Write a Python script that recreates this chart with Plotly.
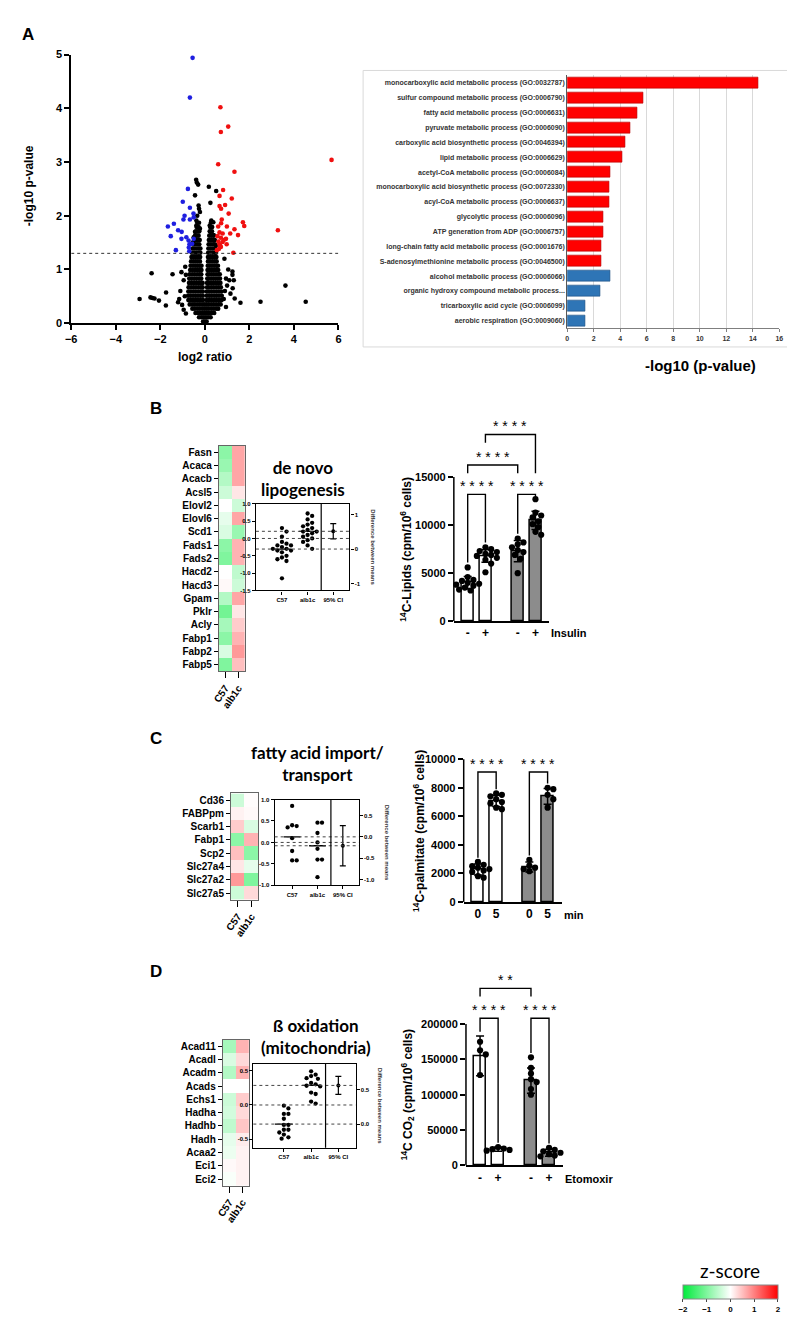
import plotly.graph_objects as go

W, H = 795, 1325
FONT = "Arial, Liberation Sans, sans-serif"
TFONT = "Lato, Open Sans, sans-serif"

# ---------------- DATA ----------------
# Panel A - volcano plot
vol_up_x = [0.70, 1.05, 0.72, 5.69, 0.60, 1.33, 0.82, 0.66, 1.21, 0.91, 0.66, 0.73, 1.07, 0.76, 0.73, 1.71, 1.77,
            0.60, 0.99, 3.28, 1.33, 0.66, 0.80, 1.14, 1.49, 0.57, 0.72, 0.95, 0.61, 0.80, 0.66, 0.98, 0.72, 0.63,
            1.28, 0.54, 0.85, 0.68]
vol_up_y = [4.02, 3.66, 3.56, 3.04, 2.96, 2.82, 2.48, 2.37, 2.32, 2.20, 2.18, 2.13, 2.04, 1.93, 1.86, 1.88, 1.81,
            1.80, 1.80, 1.73, 1.75, 1.69, 1.67, 1.67, 1.64, 1.62, 1.59, 1.57, 1.52, 1.51, 1.47, 1.47, 1.42, 1.38,
            1.31, 1.36, 1.55, 1.44]
vol_down_x = [-0.55, -0.67, -0.76, -0.99, -0.67, -0.91, -0.96, -0.67, -0.51, -1.39, -1.66, -1.20, -1.04, -1.53,
              -0.83, -1.05, -0.73, -0.57, -0.69, -1.30, -0.72, -0.70, -0.50, -0.50]
vol_down_y = [4.94, 4.20, 2.50, 2.26, 2.15, 2.00, 1.93, 1.93, 2.04, 1.85, 1.80, 1.73, 1.70, 1.62,
              1.60, 1.57, 1.54, 1.48, 1.47, 1.36, 1.41, 1.34, 1.57, 1.97]
vol_ns_x = [-2.93, -2.39, -2.44, -2.35, -2.26, -2.06, -1.74, -1.75, -1.45, -1.20, -1.02, -0.85, -1.10, -0.95,
            -1.05, -0.90, -0.95, -0.85, -1.15, -0.88, 2.50, 3.62, 4.53, 1.60, 1.24, 1.24, 1.34, 0.95, 1.10, 1.30,
            1.15, 0.90, 0.95, 1.05, 0.88, 1.00, 0.85, 1.25, -0.39, -0.36, -0.30, 0.18, 0.51, -0.44, 0.25, -0.28,
            -0.26, -0.22, -0.34, -0.38, 0.29, 0.38, -0.38, 0.22, -0.22, -0.44, 0.26, 0.39, -0.50, 0.45, -0.55, 0.50]
vol_ns_y = [0.45, 0.93, 0.48, 0.47, 0.46, 0.42, 0.57, 0.33, 0.91, 0.39, 0.34, 0.18, 0.60, 0.80,
            0.95, 0.50, 0.25, 0.90, 0.45, 1.05, 0.40, 0.70, 0.40, 0.38, 0.96, 0.90, 0.46, 0.83, 0.80, 0.80,
            0.55, 0.60, 0.30, 1.00, 1.20, 0.70, 0.45, 0.65, 2.67, 2.62, 2.58, 2.54, 2.46, 2.38, 2.24, 2.19,
            2.13, 2.07, 2.00, 1.91, 1.91, 1.88, 1.82, 1.82, 1.76, 1.70, 1.70, 1.64, 1.60, 1.55, 1.50, 1.45]
vol_core_y = [0.03, 0.11, 0.19, 0.27, 0.35, 0.43, 0.51, 0.59, 0.67, 0.75, 0.83, 0.91, 0.99, 1.07, 1.15, 1.23,
              1.31, 1.39, 1.47, 1.55, 1.63, 1.71, 1.79, 1.87]
vol_core_x = [
    [-0.08, 0.0, 0.08],
    [-0.26, -0.15, -0.05, 0.05, 0.15, 0.26],
    [-0.42, -0.31, -0.2, -0.1, 0.0, 0.1, 0.2, 0.31, 0.42],
    [-0.56, -0.45, -0.34, -0.23, -0.12, -0.02, 0.08, 0.18, 0.29, 0.4, 0.51, 0.6],
    [-0.68, -0.57, -0.46, -0.35, -0.24, -0.13, -0.03, 0.07, 0.17, 0.28, 0.39, 0.5, 0.61, 0.71],
    [-0.74, -0.63, -0.52, -0.41, -0.3, -0.19, -0.08, 0.08, 0.19, 0.3, 0.41, 0.52, 0.63, 0.75],
    [-0.75, -0.64, -0.53, -0.42, -0.31, -0.2, -0.09, 0.09, 0.2, 0.31, 0.42, 0.53, 0.64, 0.76],
    [-0.74, -0.63, -0.52, -0.41, -0.3, -0.19, -0.09, 0.09, 0.19, 0.3, 0.41, 0.52, 0.63, 0.74],
    [-0.73, -0.62, -0.51, -0.4, -0.29, -0.18, -0.1, 0.1, 0.18, 0.29, 0.4, 0.51, 0.62, 0.72],
    [-0.71, -0.6, -0.49, -0.38, -0.27, -0.17, -0.1, 0.1, 0.17, 0.27, 0.38, 0.49, 0.6, 0.7],
    [-0.7, -0.59, -0.48, -0.37, -0.26, -0.16, 0.11, 0.18, 0.28, 0.38, 0.48, 0.58, 0.68],
    [-0.68, -0.57, -0.46, -0.35, -0.25, -0.16, 0.12, 0.2, 0.3, 0.4, 0.5, 0.6, 0.67],
    [-0.66, -0.55, -0.44, -0.34, -0.24, -0.15, 0.12, 0.21, 0.31, 0.41, 0.51, 0.6],
    [-0.64, -0.53, -0.43, -0.33, -0.23, -0.15, 0.13, 0.22, 0.32, 0.42, 0.52, 0.59],
    [-0.62, -0.52, -0.42, -0.32, -0.22, 0.14, 0.23, 0.33, 0.43, 0.53],
    [-0.6, -0.5, -0.4, -0.3, -0.21, 0.14, 0.24, 0.34, 0.44, 0.52],
    [-0.58, -0.48, -0.38, -0.28, -0.2, 0.15, 0.25, 0.35, 0.45, 0.5],
    [-0.55, -0.46, -0.36, -0.27, -0.2, 0.16, 0.26, 0.36, 0.46],
    [-0.52, -0.43, -0.34, -0.25, 0.17, 0.27, 0.37, 0.45],
    [-0.48, -0.4, -0.31, -0.23, 0.18, 0.28, 0.38],
    [-0.44, -0.36, -0.28, 0.2, 0.3, 0.4],
    [-0.4, -0.32, -0.25, 0.22, 0.32],
    [-0.37, -0.28, 0.24, 0.33],
    [-0.34, -0.26, 0.27],
]
sig_threshold = 1.3

# Panel A - GO enrichment
go_terms = [
    "monocarboxylic acid metabolic process (GO:0032787)",
    "sulfur compound metabolic process (GO:0006790)",
    "fatty acid metabolic process (GO:0006631)",
    "pyruvate metabolic process (GO:0006090)",
    "carboxylic acid biosynthetic process (GO:0046394)",
    "lipid metabolic process (GO:0006629)",
    "acetyl-CoA metabolic process (GO:0006084)",
    "monocarboxylic acid biosynthetic process (GO:0072330)",
    "acyl-CoA metabolic process (GO:0006637)",
    "glycolytic process (GO:0006096)",
    "ATP generation from ADP (GO:0006757)",
    "long-chain fatty acid metabolic process (GO:0001676)",
    "S-adenosylmethionine metabolic process (GO:0046500)",
    "alcohol metabolic process (GO:0006066)",
    "organic hydroxy compound metabolic process...",
    "tricarboxylic acid cycle (GO:0006099)",
    "aerobic respiration (GO:0009060)",
]
go_values = [14.4, 5.76, 5.26, 4.79, 4.37, 4.14, 3.28, 3.18, 3.15, 2.70, 2.68, 2.60, 2.60, 3.23, 2.50, 1.39, 1.36]
go_direction = ["up"] * 13 + ["down"] * 4

# Heatmaps (z-scores)
hm_columns = ["C57", "alb1c"]
b_genes = ["Fasn", "Acaca", "Acacb", "Acsl5", "Elovl2", "Elovl6", "Scd1", "Fads1", "Fads2", "Hacd2", "Hacd3",
           "Gpam", "Pklr", "Acly", "Fabp1", "Fabp2", "Fabp5"]
b_z_c57 = [-0.9, -0.8, -0.6, -0.4, 0.0, -0.2, -0.3, -0.9, -1.0, 0.0, 0.05, -0.6, -1.1, -0.7, -0.9, -0.3, -1.0]
b_z_alb1c = [0.7, 0.7, 0.7, 0.2, -0.4, 0.7, -0.8, 0.6, 0.6, -0.5, -0.4, 0.7, 0.2, 0.4, 0.6, 0.8, 0.5]
c_genes = ["Cd36", "FABPpm", "Scarb1", "Fabp1", "Scp2", "Slc27a4", "Slc27a2", "Slc27a5"]
c_z_c57 = [-0.4, 0.1, 0.4, -0.9, 0.5, 0.2, 0.8, -0.4]
c_z_alb1c = [0.02, 0.05, -0.3, 0.6, -0.9, -0.2, -1.0, 0.3]
d_genes = ["Acad11", "Acadl", "Acadm", "Acads", "Echs1", "Hadha", "Hadhb", "Hadh", "Acaa2", "Eci1", "Eci2"]
d_z_c57 = [-0.7, -0.3, -0.6, 0.0, -0.4, -0.35, -0.5, -0.2, -0.15, 0.05, -0.05]
d_z_alb1c = [0.6, 0.3, 0.6, 0.0, 0.4, 0.3, 0.45, 0.15, 0.1, 0.1, 0.1]

# Estimation plots
est_labels = ["C57", "alb1c", "95% CI"]
b_est_c57 = [0.3, 0.2, 0.05, -0.1, -0.15, -0.2, -0.2, -0.25, -0.3, -0.3, -0.35, -0.35, -0.4, -0.55, -0.5, -0.6,
             -0.65, -1.15]
b_est_alb1c = [0.72, 0.65, 0.55, 0.45, 0.4, 0.35, 0.3, 0.25, 0.2, 0.2, 0.15, 0.1, 0.05, 0.0, -0.05, -0.1, -0.2, -0.3]
b_ci_half = 0.22
c_est_c57 = [0.85, 0.4, 0.35, 0.38, 0.1, -0.2, -0.42, -0.42]
c_est_alb1c = [0.46, 0.46, 0.22, 0.0, -0.15, -0.4, -0.4, -0.81]
c_ci_half = 0.47
d_est_c57 = [-0.01, -0.05, -0.13, -0.13, -0.2, -0.29, -0.29, -0.36, -0.36, -0.4, -0.43, -0.49, -0.47]
d_est_alb1c = [0.44, 0.42, 0.49, 0.38, 0.39, 0.3, 0.32, 0.28, 0.27, 0.18, 0.16, 0.02, 0.05]
d_ci_half = 0.13

# Bar charts
b_bar_labels = ["-", "+", "-", "+"]
b_bar_means = [4000, 6800, 7300, 10500]
b_bar_sd = [650, 650, 1100, 950]
b_points = [[5600, 4600, 4300, 4200, 4000, 3900, 3800, 3700, 3500, 3300, 3200],
            [7700, 7500, 7300, 7200, 7000, 6900, 6800, 6600, 6400, 6000, 5100],
            [8600, 8200, 8000, 7700, 7400, 7200, 6900, 6500, 5000],
            [12700, 11300, 11000, 10800, 10400, 10100, 9800, 9300, 9000]]
b_yticks = [0, 5000, 10000, 15000]

c_bar_labels = ["0", "5", "0", "5"]
c_bar_means = [2270, 7080, 2450, 7400]
c_bar_sd = [380, 400, 350, 550]
c_points = [[2800, 2600, 2500, 2400, 2300, 2200, 2100, 1800, 1700],
            [7600, 7500, 7400, 7200, 7000, 6900, 6600, 6500],
            [2950, 2550, 2400, 2300, 2150],
            [8000, 7900, 7500, 7200, 6600]]
c_yticks = [0, 2000, 4000, 6000, 8000, 10000]

d_bar_labels = ["-", "+", "-", "+"]
d_bar_means = [155000, 23000, 120000, 18000]
d_bar_sd = [28000, 3000, 18000, 5000]
d_points = [[175000, 163000, 157000, 128000],
            [26000, 24000, 23000, 22000, 21000],
            [153000, 138000, 130000, 122000, 118000, 108000, 100000],
            [25000, 22000, 20000, 18000, 16000, 14000, 13000]]
d_yticks = [0, 50000, 100000, 150000, 200000]

zscore_ticks = [-2, -1, 0, 1, 2]

# ---------------- HELPERS ----------------
def xd(a, b):
    return [a / W, b / W]


def yd(top, bottom):
    return [1 - bottom / H, 1 - top / H]


def names(n):
    return ("x" if n == 1 else f"x{n}"), ("y" if n == 1 else f"y{n}")


def lnames(n):
    return ("xaxis" if n == 1 else f"xaxis{n}"), ("yaxis" if n == 1 else f"yaxis{n}")


def bfont(size, color="black"):
    return dict(family=FONT, size=size, color=color, weight="bold")


def swarm(vals, ppu, d=5.0, step=2.5):
    ys = [v * ppu for v in vals]
    order = sorted(range(len(vals)), key=lambda i: -vals[i])
    placed, offs = [], [0.0] * len(vals)
    for i in order:
        k, chosen = 0, None
        while chosen is None:
            cands = [0.0] if k == 0 else [k * step, -k * step]
            for c in cands:
                if all((c - px) ** 2 + (ys[i] - py) ** 2 >= d * d for px, py in placed):
                    chosen = c
                    break
            k += 1
        offs[i] = chosen
        placed.append((chosen, ys[i]))
    return offs


fig = go.Figure()
lay = {}
shapes = []
annos = []


def anno(x, y, text, font, angle=0, xanchor="center", yanchor="middle"):
    annos.append(dict(x=x / W, y=1 - y / H, xref="paper", yref="paper", text=text, showarrow=False,
                      font=font, textangle=angle, xanchor=xanchor, yanchor=yanchor))


# ---------------- PANEL A: volcano ----------------
xa, ya = names(1)
core_x = [x for row in vol_core_x for x in row]
core_y = [y for y, row in zip(vol_core_y, vol_core_x) for _ in row]
fig.add_trace(go.Scatter(x=vol_ns_x + core_x, y=vol_ns_y + core_y, mode="markers",
                         marker=dict(color="black", size=4.6), xaxis=xa, yaxis=ya, showlegend=False))
fig.add_trace(go.Scatter(x=vol_down_x, y=vol_down_y, mode="markers",
                         marker=dict(color="#1f1fe0", size=4.6), xaxis=xa, yaxis=ya, showlegend=False))
fig.add_trace(go.Scatter(x=vol_up_x, y=vol_up_y, mode="markers",
                         marker=dict(color="#f01010", size=4.6), xaxis=xa, yaxis=ya, showlegend=False))
shapes.append(dict(type="line", xref=xa, yref=ya, x0=-6, x1=6, y0=sig_threshold, y1=sig_threshold,
                   line=dict(color="#333", width=1, dash="dot")))
axstyle = dict(showline=True, linewidth=2, linecolor="black", ticks="outside", ticklen=5, tickwidth=2,
               tickcolor="black", showgrid=False, zeroline=False, tickfont=bfont(11))
kx, ky = lnames(1)
lay[kx] = dict(domain=xd(57, 328), anchor=ya, range=[-6, 6], tickvals=[-6, -4, -2, 0, 2, 4, 6], **axstyle)
lay[ky] = dict(domain=yd(41, 312), anchor=xa, range=[0, 5], tickvals=[0, 1, 2, 3, 4, 5], **axstyle)
anno(15, 173, "-log10 p-value", bfont(12), angle=-90)
anno(193, 346, "log2 ratio", bfont(12))
anno(13, 21, "A", bfont(17))

# ---------------- PANEL A: GO bars ----------------
xa, ya = names(2)
colors = ["#ff0000" if d == "up" else "#2e75b6" for d in go_direction]
lines = ["#b00000" if d == "up" else "#1f4f80" for d in go_direction]
fig.add_trace(go.Bar(x=go_values, y=go_terms, orientation="h", width=0.74,
                     marker=dict(color=colors, line=dict(color=lines, width=0.6)),
                     xaxis=xa, yaxis=ya, showlegend=False))
kx, ky = lnames(2)
lay[kx] = dict(domain=xd(560, 775), anchor=ya, range=[0, 16], tickvals=list(range(0, 17, 2)),
               showgrid=True, gridcolor="#d9d9d9", gridwidth=1, showline=True, linecolor="#7f7f7f",
               ticks="outside", ticklen=3, tickcolor="#7f7f7f", zeroline=False, tickfont=bfont(7, "#333333"))
lay[ky] = dict(domain=yd(62, 317), anchor=xa, autorange="reversed", showline=True, linecolor="#595959",
               ticks="", showgrid=False, tickfont=bfont(7, "#333333"))
shapes.append(dict(type="rect", xref="paper", yref="paper", x0=353 / W, x1=787 / W, y0=1 - 336 / H,
                   y1=1 - 57 / H, line=dict(color="#d9d9d9", width=1)))
anno(695, 355, "-log10 (p-value)", bfont(15))


# ---------------- HEATMAPS ----------------
def heat(n, genes, zc, za, xpx, top, bottom):
    xa, ya = names(n)
    fig.add_trace(go.Heatmap(z=[[c, a] for c, a in zip(zc, za)], x=hm_columns, y=genes, coloraxis="coloraxis",
                             xaxis=xa, yaxis=ya, xgap=0, ygap=0))
    kx, ky = lnames(n)
    lay[kx] = dict(domain=xd(*xpx), anchor=ya, showline=True, mirror=True, linecolor="#666", linewidth=1,
                   ticks="outside", ticklen=6, tickcolor="black", tickangle=-55, tickfont=bfont(10),
                   showgrid=False, zeroline=False)
    lay[ky] = dict(domain=yd(top, bottom), anchor=xa, autorange="reversed", showline=True, mirror=True,
                   linecolor="#666", linewidth=1, ticks="outside", ticklen=4, tickcolor="black",
                   tickfont=bfont(10), showgrid=False, zeroline=False)


heat(3, b_genes, b_z_c57, b_z_alb1c, (206.7, 233), 435.6, 663.4)
heat(7, c_genes, c_z_c57, c_z_alb1c, (219, 246.7), 786.6, 893.8)
heat(11, d_genes, d_z_c57, d_z_alb1c, (210.7, 237.3), 1035, 1182.4)


# ---------------- ESTIMATION PLOTS ----------------
def est(n, rn, g1, g2, ci, xpx, ypx, yr, xleft, yticks, rticks, rtext, rtitle_x, title, title_xy):
    xa, ya = names(n)
    _, yra = names(rn)
    xr = [xleft, 2.63]
    ppx = (xpx[1] - xpx[0]) / (xr[1] - xr[0])
    ppy = (ypx[1] - ypx[0]) / (yr[1] - yr[0])
    m1 = sum(g1) / len(g1)
    m2 = sum(g2) / len(g2)
    for k, g in enumerate([g1, g2]):
        offs = swarm(g, ppy, d=4.4, step=2.3)
        fig.add_trace(go.Scatter(x=[k + o / ppx for o in offs], y=g, mode="markers",
                                 marker=dict(color="black", size=4.3), xaxis=xa, yaxis=ya, showlegend=False))
    for k, m in enumerate([m1, m2]):
        fig.add_trace(go.Scatter(x=[k - 0.33, k + 0.33], y=[m, m], mode="lines",
                                 line=dict(color="black", width=1.3), xaxis=xa, yaxis=ya, showlegend=False))
    fig.add_trace(go.Scatter(x=[2.0], y=[m2], mode="markers", marker=dict(color="black", size=4),
                             error_y=dict(type="data", array=[ci], color="black", thickness=1.2, width=3),
                             xaxis=xa, yaxis=ya, showlegend=False))
    fig.add_trace(go.Scatter(x=[2.0], y=[m2 - m1], mode="markers", marker=dict(opacity=0),
                             xaxis=xa, yaxis=yra, showlegend=False, hoverinfo="skip"))
    for v in [0.0, m1, m2]:
        shapes.append(dict(type="line", xref=f"{xa} domain", yref=ya, x0=0, x1=1, y0=v, y1=v,
                           line=dict(color="#444", width=1, dash="dot")))
    shapes.append(dict(type="line", xref=xa, yref=f"{ya} domain", x0=1.53, x1=1.53, y0=0, y1=1,
                       line=dict(color="black", width=1.2)))
    kx, ky = lnames(n)
    _, kr = lnames(rn)
    lay[kx] = dict(domain=xd(*xpx), anchor=ya, range=xr, tickvals=[0, 1, 2.0], ticktext=est_labels,
                   showline=True, mirror=True, linecolor="black", linewidth=1.2, ticks="outside", ticklen=3,
                   tickcolor="black", tickfont=bfont(6), showgrid=False, zeroline=False)
    lay[ky] = dict(domain=yd(*ypx), anchor=xa, range=list(yr), tickvals=yticks,
                   ticktext=[f"{t:.1f}" for t in yticks], showline=True, linecolor="black", linewidth=1.2,
                   ticks="outside", ticklen=3, tickcolor="black", tickfont=bfont(6), showgrid=False,
                   zeroline=False)
    lay[kr] = dict(overlaying=ya, anchor=xa, side="right", range=[yr[0] - m1, yr[1] - m1], tickvals=rticks,
                   ticktext=rtext, showline=True, linecolor="black", linewidth=1.2, ticks="outside", ticklen=3,
                   tickcolor="black", tickfont=bfont(6), showgrid=False, zeroline=False)
    anno(rtitle_x, (ypx[0] + ypx[1]) / 2, "Difference between means", bfont(6, "#333"), angle=90)
    anno(title_xy[0], title_xy[1], title, dict(family=TFONT, size=17, color="black", weight="bold"))


est(4, 5, b_est_c57, b_est_alb1c, b_ci_half, (244.3, 339.1), (494.3, 581.7), (-1.5, 1.0), -1.015,
    [1.0, 0.5, 0.0, -0.5, -1.0, -1.5], [1, 0, -1], ["1", "0", "-1"], 363, "de novo<br>lipogenesis", (292, 469))
est(8, 9, c_est_c57, c_est_alb1c, c_ci_half, (263.3, 348.6), (792.7, 879.3), (-1.0, 1.0), -0.69,
    [1.0, 0.5, 0.0, -0.5, -1.0], [0.5, 0, -0.5, -1.0], ["0.5", "0.0", "-0.5", "-1.0"], 377,
    "fatty acid import/<br>transport", (307, 756))
est(12, 13, d_est_c57, d_est_alb1c, d_ci_half, (241.7, 345.3), (1059.3, 1144), (-0.62, 0.6), -1.12,
    [0.5, 0.0, -0.5], [0.5, 0], ["0.5", "0.0"], 370, "ß oxidation<br>(mitochondria)", (305, 1032))

# ---------------- BAR CHARTS ----------------
positions = [0, 1, 2.82, 3.82]
fills = ["white", "white", "#8c8c8c", "#8c8c8c"]


def bars(n, xpx, y0px, ytop_px, ytop_val, domtop, means, sds, pts, labels, yticks, ytitle, ytitle_x,
         word, word_xy, brackets, pad, star_text_size=14):
    xa, ya = names(n)
    xr = [-0.78, 4.6]
    ppx = (xpx[1] - xpx[0]) / (xr[1] - xr[0])
    ppu = (y0px - ytop_px) / ytop_val
    rtop = (y0px - domtop) / ppu
    fig.add_trace(go.Bar(x=positions, y=means, width=0.68,
                         marker=dict(color=fills, line=dict(color="black", width=1.5)),
                         error_y=dict(type="data", array=sds, color="black", thickness=1.5, width=4),
                         xaxis=xa, yaxis=ya, showlegend=False))
    for k, g in enumerate(pts):
        offs = swarm(g, ppu, d=5.6, step=2.9)
        fig.add_trace(go.Scatter(x=[positions[k] + o / ppx for o in offs], y=g, mode="markers",
                                 marker=dict(color="black", size=6.2), xaxis=xa, yaxis=ya, showlegend=False,
                                 cliponaxis=False))
    tops = [max(max(g), m + s) for g, m, s in zip(pts, means, sds)]
    for (i, j, level, li, lj, txt) in brackets:
        li = li if li is not None else min(tops[i] + pad, level - pad * 0.6)
        lj = lj if lj is not None else min(tops[j] + pad, level - pad * 0.6)
        fig.add_trace(go.Scatter(x=[positions[i], positions[i], positions[j], positions[j]],
                                 y=[li, level, level, lj], mode="lines",
                                 line=dict(color="black", width=1.4), xaxis=xa, yaxis=ya, showlegend=False))
        annos.append(dict(x=(positions[i] + positions[j]) / 2, y=level, xref=xa, yref=ya, text=txt,
                          showarrow=False, yanchor="bottom", yshift=-2,
                          font=dict(family=FONT, size=star_text_size, color="black")))
    shapes.append(dict(type="line", xref=f"{xa} domain", yref=ya, x0=0, x1=0, y0=0, y1=ytop_val,
                       line=dict(color="black", width=1.5)))
    kx, ky = lnames(n)
    lay[kx] = dict(domain=xd(*xpx), anchor=ya, range=xr, tickvals=positions, ticktext=labels, showline=True,
                   linecolor="black", linewidth=1.5, ticks="", tickfont=bfont(12), showgrid=False,
                   zeroline=False)
    lay[ky] = dict(domain=yd(domtop, y0px), anchor=xa, range=[0, rtop], tickvals=yticks,
                   ticktext=[str(t) for t in yticks], showline=False,
                   ticks="outside", ticklen=5, tickwidth=1.5, tickcolor="black", tickfont=bfont(11),
                   showgrid=False, zeroline=False)
    anno(ytitle_x, y0px - ytop_val * ppu / 2, ytitle, bfont(12), angle=-90)
    anno(word_xy[0], word_xy[1], word, bfont(11))


S4 = "* * * *"
bars(6, (445, 541.8), 612.8, 467.3, 15000, 405, b_bar_means, b_bar_sd, b_points, b_bar_labels, b_yticks,
     "<sup>14</sup>C-Lipids (cpm/10<sup>6</sup> cells)", 397, "Insulin", (562, 625),
     [(0, 1, 13200, None, None, S4), (2, 3, 13200, None, None, S4), (0, 2, 16260, 15400, 15400, S4),
      (1, 3, 19430, 18570, 15400, S4)], 500)
bars(10, (455, 554.5), 896, 752, 10000, 742, c_bar_means, c_bar_sd, c_points, c_bar_labels, c_yticks,
     "<sup>14</sup>C-palmitate (cpm/10<sup>6</sup> cells)", 409, "min", (567, 909),
     [(0, 1, 9100, None, None, S4), (2, 3, 9100, None, None, S4)], 300)
bars(14, (457.3, 555.8), 1162, 1019.3, 200000, 962, d_bar_means, d_bar_sd, d_points, d_bar_labels, d_yticks,
     "<sup>14</sup>C CO<sub>2</sub> (cpm/10<sup>6</sup> cells)", 398, "Etomoxir", (582, 1176),
     [(0, 1, 208260, None, None, S4), (2, 3, 208260, None, None, S4), (0, 2, 250460, 239000, 239000, "* *")],
     6000)

# Panel letters
anno(143, 398, "B", bfont(17))
anno(143, 731, "C", bfont(17))
anno(143, 966, "D", bfont(17))

# z-score legend
anno(725.5, 1268, "z-score", dict(family=TFONT, size=19, color="black"))

fig.update_layout(
    width=W, height=H, margin=dict(l=0, r=0, t=0, b=0), paper_bgcolor="white", plot_bgcolor="white",
    showlegend=False, shapes=shapes, annotations=annos, bargap=0,
    coloraxis=dict(colorscale=[[0, "rgb(0,235,60)"], [0.5, "rgb(255,255,255)"], [1, "rgb(255,0,0)"]],
                   cmin=-2, cmax=2,
                   colorbar=dict(orientation="h", x=725.5 / W, xanchor="center", y=1 - 1283 / H, yanchor="top",
                                 lenmode="pixels", len=95, thicknessmode="pixels", thickness=14, xpad=0, ypad=0,
                                 tickvals=zscore_ticks, ticks="outside", ticklen=3, tickfont=bfont(8),
                                 outlinewidth=1, outlinecolor="#888")),
    **lay,
)
fig.write_html("out.html")
